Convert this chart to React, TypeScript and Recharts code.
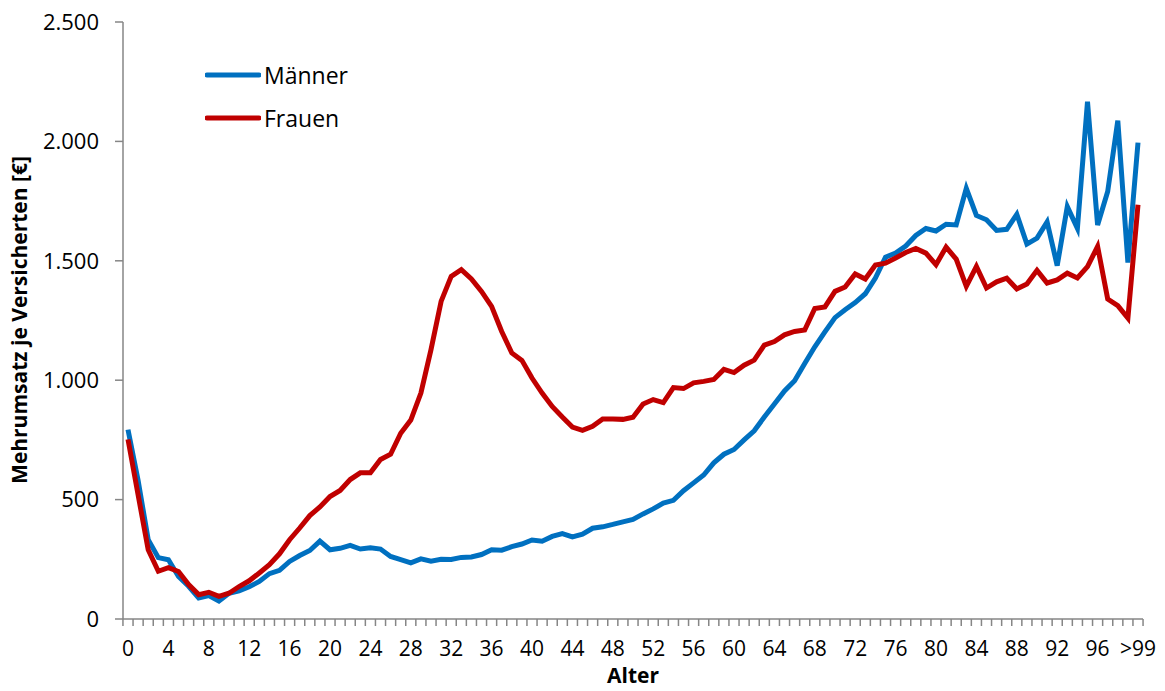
import { LineChart, Line, XAxis, YAxis } from "recharts";

const AGES = [
  "0", "1", "2", "3", "4", "5", "6", "7", "8", "9",
  "10", "11", "12", "13", "14", "15", "16", "17", "18", "19",
  "20", "21", "22", "23", "24", "25", "26", "27", "28", "29",
  "30", "31", "32", "33", "34", "35", "36", "37", "38", "39",
  "40", "41", "42", "43", "44", "45", "46", "47", "48", "49",
  "50", "51", "52", "53", "54", "55", "56", "57", "58", "59",
  "60", "61", "62", "63", "64", "65", "66", "67", "68", "69",
  "70", "71", "72", "73", "74", "75", "76", "77", "78", "79",
  "80", "81", "82", "83", "84", "85", "86", "87", "88", "89",
  "90", "91", "92", "93", "94", "95", "96", "97", "98", "99",
  ">99",
];

const MAENNER = [
  793, 580, 332, 257, 248, 178, 137, 88, 98, 75,
  108, 118, 135, 157, 190, 204, 241, 266, 287, 326,
  290, 296, 308, 293, 298, 293, 262, 249, 235, 252,
  242, 250, 249, 258, 260, 270, 290, 288, 303, 314,
  331, 326, 346, 358, 344, 355, 380, 386, 396, 407,
  417, 440, 461, 485, 497, 537, 570, 603, 654, 690,
  710, 750, 788, 846, 900, 955, 998, 1070, 1140, 1202,
  1262, 1295, 1325, 1362, 1428, 1515, 1532, 1562, 1606, 1635,
  1625, 1653, 1650, 1803, 1690, 1672, 1627, 1632, 1695, 1570,
  1595, 1663, 1480, 1727, 1636, 2166, 1650, 1790, 2087, 1493,
  1995,
];

const FRAUEN = [
  752, 520, 290, 200, 215, 199, 144, 102, 112, 95,
  108, 136, 160, 193, 227, 273, 332, 381, 433, 469,
  513, 538, 584, 612, 612, 668, 690, 778, 833, 946,
  1128, 1330, 1435, 1463, 1424, 1372, 1309, 1204, 1114, 1083,
  1009, 946, 890, 846, 804, 790, 807, 838, 838, 836,
  845, 900, 919, 906, 969, 965, 989, 995, 1003, 1045,
  1032, 1063, 1084, 1147, 1162, 1190, 1204, 1210, 1300, 1307,
  1372, 1390, 1445, 1424, 1482, 1490, 1512, 1535, 1552, 1532,
  1484, 1557, 1507, 1393, 1476, 1386, 1412, 1427, 1382, 1403,
  1460, 1407, 1420, 1448, 1428, 1476, 1560, 1340, 1312, 1260,
  1735,
];

const Y_TICKS = [0, 500, 1000, 1500, 2000, 2500];

const data = AGES.map((age, i) => ({
  age,
  maenner: MAENNER[i],
  frauen: FRAUEN[i],
}));

const BLUE = "#0070C0";
const RED = "#C00000";
const GRAY = "#868686";
const FONT = "'Open Sans', sans-serif";
const STEP = 10.1; // width of one age category in px

// thousands separator like "2.500"
const fmt = (v: number) =>
  v >= 1000 ? `${Math.floor(v / 1000)}.${String(v % 1000).padStart(3, "0")}` : String(v);

function AgeTick(props: any) {
  const { x, y, payload, index } = props;
  const axisY = y - 22;
  const last = index === AGES.length - 1;
  return (
    <g>
      <line x1={x - STEP / 2} x2={x - STEP / 2} y1={axisY} y2={axisY + 7} stroke={GRAY} strokeWidth={1.5} />
      {last && (
        <line x1={x + STEP / 2} x2={x + STEP / 2} y1={axisY} y2={axisY + 7} stroke={GRAY} strokeWidth={1.5} />
      )}
      {index % 4 === 0 && (
        <text x={x} y={y} dy="0.71em" textAnchor="middle" fill="#000" fontSize={21} fontFamily={FONT}>
          {payload.value}
        </text>
      )}
    </g>
  );
}

function LegendRow({ color, label }: { color: string; label: string }) {
  return (
    <div style={{ display: "flex", alignItems: "center", height: 43 }}>
      <svg width={56} height={10}>
        <line x1={2} x2={54} y1={5} y2={5} stroke={color} strokeWidth={5} strokeLinecap="round" />
      </svg>
      <span style={{ fontFamily: FONT, fontSize: 23, marginLeft: 3, color: "#000" }}>{label}</span>
    </div>
  );
}

export default function App() {
  return (
    <div style={{ position: "absolute", left: 0, top: 0, width: 1165, height: 691, background: "#fff" }}>
      <LineChart width={1165} height={691} data={data} margin={{ top: 22, right: 22, bottom: 0, left: 0 }}>
        <XAxis
          dataKey="age"
          height={72}
          interval={0}
          padding={{ left: 5, right: 5 }}
          axisLine={{ stroke: GRAY, strokeWidth: 1.5 }}
          tickLine={false}
          tickSize={7}
          tickMargin={15}
          tick={<AgeTick />}
          label={() => (
            <text x={633} y={683} textAnchor="middle" fontSize={21} fontWeight="bold" fontFamily={FONT} fill="#000">
              Alter
            </text>
          )}
        />
        <YAxis
          width={123}
          domain={[0, 2500]}
          ticks={Y_TICKS}
          tickFormatter={fmt}
          axisLine={{ stroke: GRAY, strokeWidth: 1.5 }}
          tickLine={{ stroke: GRAY, strokeWidth: 1.5 }}
          tickSize={8}
          tickMargin={16}
          tick={{ fill: "#000", fontSize: 22, fontFamily: FONT }}
          label={() => (
            <text
              x={27}
              y={320}
              transform="rotate(-90 27 320)"
              textAnchor="middle"
              fontSize={21}
              fontWeight="bold"
              fontFamily={FONT}
              fill="#000"
            >
              Mehrumsatz je Versicherten [€]
            </text>
          )}
        />
        <Line
          type="linear"
          dataKey="maenner"
          name="Männer"
          stroke={BLUE}
          strokeWidth={5}
          dot={false}
          isAnimationActive={false}
        />
        <Line
          type="linear"
          dataKey="frauen"
          name="Frauen"
          stroke={RED}
          strokeWidth={5}
          dot={false}
          isAnimationActive={false}
        />
      </LineChart>
      <div style={{ position: "absolute", left: 205, top: 53 }}>
        <LegendRow color={BLUE} label="Männer" />
        <LegendRow color={RED} label="Frauen" />
      </div>
    </div>
  );
}
